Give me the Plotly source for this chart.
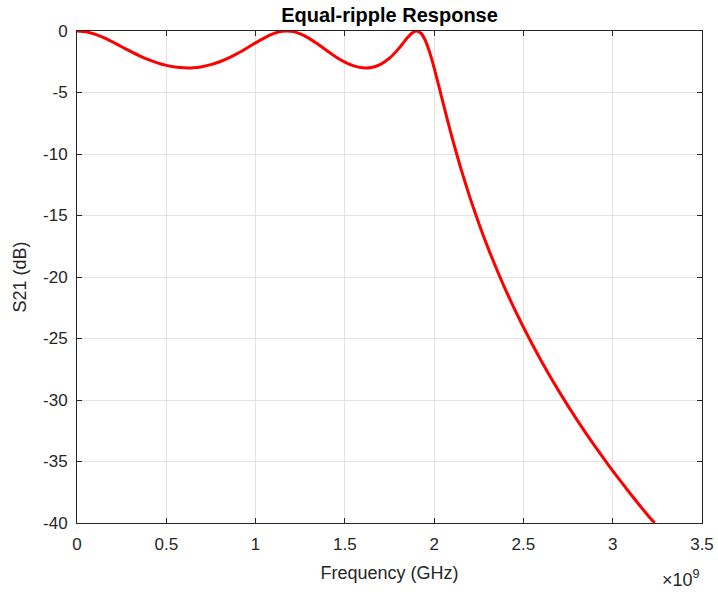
import plotly.graph_objects as go

# Frequency (GHz) and S21 (dB) values
freq_ghz = [0.00, 0.05, 0.10, 0.15, 0.20, 0.25, 0.30, 0.35, 0.40, 0.45,
            0.50, 0.55, 0.60, 0.65, 0.70, 0.75, 0.80, 0.85, 0.90, 0.95,
            1.00, 1.05, 1.10, 1.15, 1.20, 1.25, 1.30, 1.35, 1.40, 1.45,
            1.50, 1.55, 1.60, 1.65, 1.70, 1.75, 1.80, 1.825, 1.85, 1.875,
            1.90, 1.925, 1.95, 1.975, 2.00, 2.025, 2.05, 2.10, 2.15, 2.20,
            2.25, 2.30, 2.40, 2.50, 2.60, 2.70, 2.80, 2.90, 3.00, 3.10,
            3.20, 3.235]
s21_db = [0.000, -0.067, -0.257, -0.545, -0.897, -1.279, -1.659, -2.016, -2.332, -2.595,
          -2.797, -2.932, -2.995, -2.985, -2.898, -2.736, -2.498, -2.189, -1.818, -1.401,
          -0.965, -0.552, -0.219, -0.027, -0.025, -0.227, -0.601, -1.085, -1.608, -2.106,
          -2.527, -2.833, -2.988, -2.959, -2.711, -2.212, -1.454, -1.004, -0.552, -0.178,
          -0.001, -0.163, -0.751, -1.737, -3.000, -4.403, -5.845, -8.640, -11.202, -13.523,
          -15.636, -17.574, -21.040, -24.088, -26.823, -29.318, -31.617, -33.756, -35.758, -37.644,
          -39.431, -40.0]

x_ticks = [0, 0.5, 1, 1.5, 2, 2.5, 3, 3.5]
x_tick_labels = ["0", "0.5", "1", "1.5", "2", "2.5", "3", "3.5"]
y_ticks = [0, -5, -10, -15, -20, -25, -30, -35, -40]
y_tick_labels = ["0", "-5", "-10", "-15", "-20", "-25", "-30", "-35", "-40"]

FONT = "Liberation Sans, Arial, Helvetica, sans-serif"
AXC = "#262626"
GRID = "#e3e3e3"

fig = go.Figure()
fig.add_trace(go.Scatter(
    x=freq_ghz, y=s21_db, mode="lines",
    line=dict(color="#ff0000", width=3, shape="spline", smoothing=0.5),
    cliponaxis=False, showlegend=False,
))

axis_common = dict(
    showline=True, linecolor=AXC, linewidth=1, mirror="ticks",
    ticks="inside", ticklen=5, tickwidth=1, tickcolor=AXC,
    showgrid=True, gridcolor=GRID, gridwidth=1, zeroline=False,
    tickfont=dict(family=FONT, size=17, color=AXC),
    automargin=False,
)

fig.update_layout(
    width=718, height=592,
    margin=dict(l=77, r=16, t=31, b=69),
    paper_bgcolor="white", plot_bgcolor="white",
    title=dict(text="<b>Equal-ripple Response</b>", x=0.5, xref="paper", xanchor="center",
               y=1, yref="paper", yanchor="bottom", pad=dict(b=9),
               font=dict(family=FONT, size=20, color="#000000")),
    xaxis=dict(range=[0, 3.5], tickvals=x_ticks, ticktext=x_tick_labels,
               ticklabelstandoff=6,
               title=dict(text="Frequency (GHz)", standoff=12,
                          font=dict(family=FONT, size=18, color=AXC)),
               **axis_common),
    yaxis=dict(range=[-40, 0], tickvals=y_ticks, ticktext=y_tick_labels,
               ticklabelstandoff=5,
               title=dict(text="S21 (dB)", standoff=11,
                          font=dict(family=FONT, size=18, color=AXC)),
               **axis_common),
    annotations=[dict(text="\u00d710<sup>9</sup>", xref="paper", yref="paper",
                      x=1.0, y=0, xanchor="right", yanchor="top", yshift=-42,
                      showarrow=False,
                      font=dict(family=FONT, size=18, color=AXC))],
)

fig.write_html("out.html")
